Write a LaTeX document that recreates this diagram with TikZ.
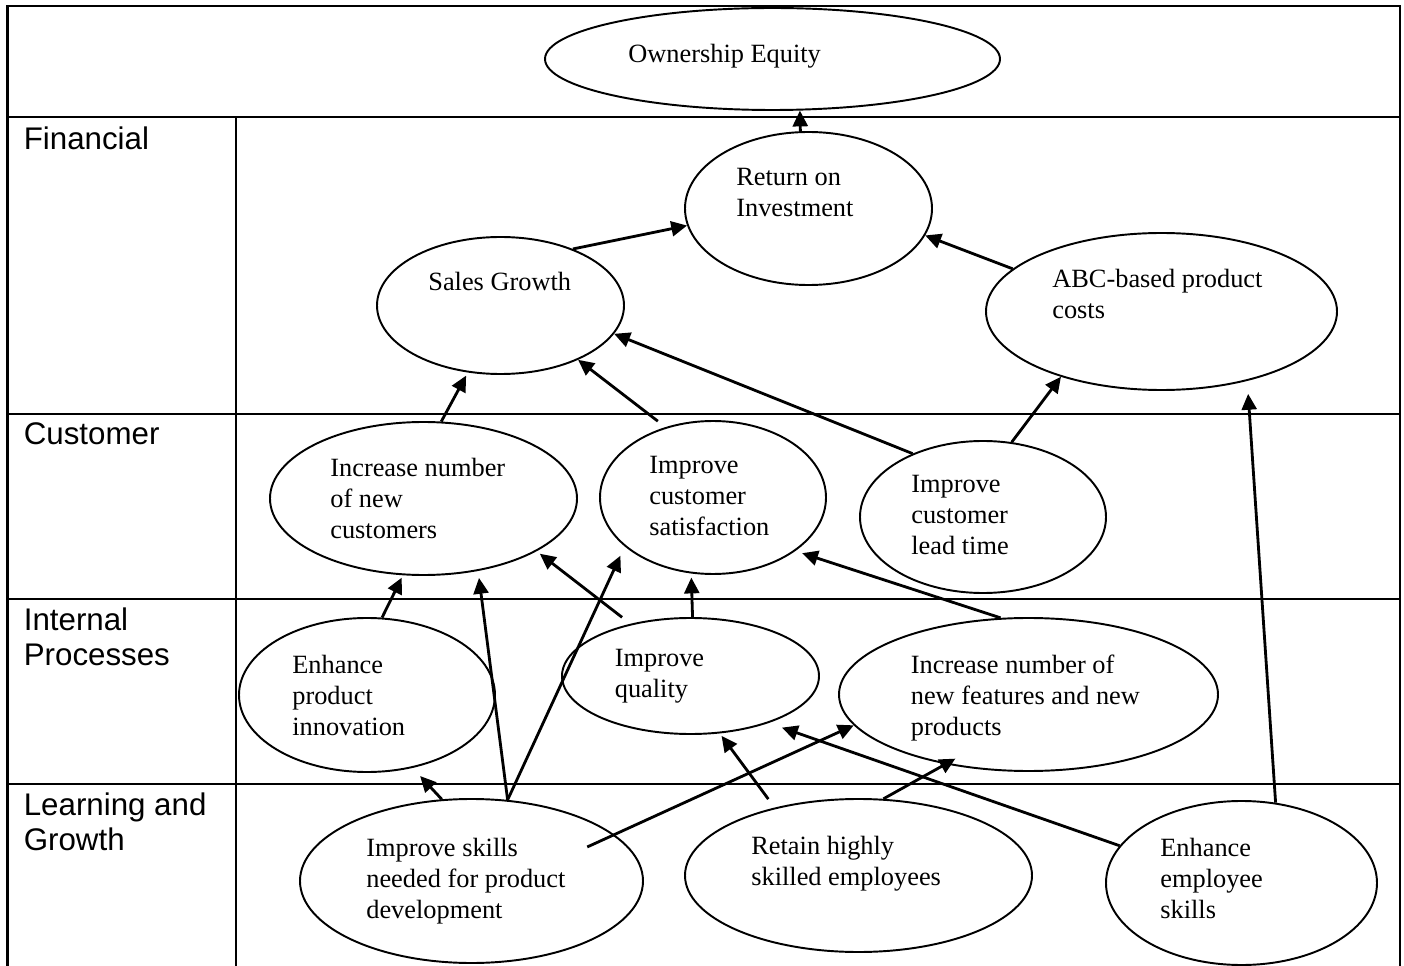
\documentclass[tikz,border=0pt]{standalone}
\usepackage{fontspec}
\setmainfont{Liberation Serif}
\newfontfamily\headfont{Liberation Sans}
\usetikzlibrary{shapes.geometric, arrows.meta, positioning}

\begin{document}
\begin{tikzpicture}[
	goal/.style={ellipse, draw, line width=1.1pt, inner sep=0pt},
	txt/.style={anchor=north west, inner sep=0pt, align=left, font=\fontsize{15}{17.64}\selectfont},
	persp/.style={anchor=north west, inner sep=0pt, align=left, font=\headfont\fontsize{17.8}{19.9}\selectfont},
	arr/.style={line width=1.6pt, -{Triangle[length=9pt,width=8.5pt]}},
	grid/.style={line width=1.6pt}
	]
	\useasboundingbox (0,0) rectangle (28.08,-19.32);

	% Table frame and rows
	\draw[grid] (0.15,-19.32) -- (0.15,-0.12) -- (28.0,-0.12) -- (28.0,-19.32);
	\draw[grid] (0.15,-2.34) -- (28.0,-2.34);
	\draw[grid] (0.15,-8.28) -- (28.0,-8.28);
	\draw[grid] (0.15,-11.98) -- (28.0,-11.98);
	\draw[grid] (0.15,-15.68) -- (28.0,-15.68);
	\draw[grid] (4.72,-2.34) -- (4.72,-19.32);

	% Perspectives
	\node[persp] (fin) at (0.47,-2.52) {Financial};
	\node[persp] (cus) at (0.47,-8.45) {Customer};
	\node[persp] (ipr) at (0.47,-12.15) {Internal\\Processes};
	\node[persp] (lag) at (0.47,-15.85) {Learning and\\Growth};

	% Top goal
	\node[goal, minimum width=9.10cm, minimum height=2.04cm] (oe) at (15.45,-1.18) {};
	\node[txt] (oe-t) at (12.56,-0.88) {Ownership Equity};

	% Financial goals
	\node[goal, minimum width=4.94cm, minimum height=3.06cm] (roi) at (16.17,-4.17) {};
	\node[txt] (roi-t) at (14.72,-3.36) {Return on\\Investment};
	\node[goal, minimum width=4.94cm, minimum height=2.74cm] (sg) at (10.01,-6.11) {};
	\node[txt] (sg-t) at (8.56,-5.44) {Sales Growth};
	\node[goal, minimum width=7.02cm, minimum height=3.14cm] (abc) at (23.23,-6.23) {};
	\node[txt] (abc-t) at (21.04,-5.38) {ABC-based product\\costs};

	% Customer goals
	\node[goal, minimum width=6.14cm, minimum height=3.06cm] (cust) at (8.47,-9.97) {};
	\node[txt] (cust-t) at (6.60,-9.16) {Increase number\\of new\\customers};
	\node[goal, minimum width=4.52cm, minimum height=3.06cm] (sat) at (14.26,-9.95) {};
	\node[txt] (sat-t) at (12.98,-9.12) {Improve\\customer\\satisfaction};
	\node[goal, minimum width=4.92cm, minimum height=3.04cm] (lead) at (19.66,-10.34) {};
	\node[txt] (lead-t) at (18.22,-9.50) {Improve\\customer\\lead time};

	% Internal process goals
	\node[goal, minimum width=5.12cm, minimum height=3.08cm] (innov) at (7.34,-13.90) {};
	\node[txt] (innov-t) at (5.84,-13.10) {Enhance\\product\\innovation};
	\node[goal, minimum width=5.14cm, minimum height=2.32cm] (qual) at (13.81,-13.52) {};
	\node[txt] (qual-t) at (12.29,-12.98) {Improve\\quality};
	\node[goal, minimum width=7.58cm, minimum height=3.06cm] (feat) at (20.57,-13.89) {};
	\node[txt] (feat-t) at (18.21,-13.10) {Increase number of\\new features and new\\products};

	% Learning and growth goals
	\node[goal, minimum width=6.86cm, minimum height=3.28cm] (skl) at (9.43,-17.62) {};
	\node[txt] (skl-t) at (7.32,-16.76) {Improve skills\\needed for product\\development};
	\node[goal, minimum width=6.94cm, minimum height=3.06cm] (ret) at (17.17,-17.51) {};
	\node[txt] (ret-t) at (15.02,-16.72) {Retain highly\\skilled employees};
	\node[goal, minimum width=5.42cm, minimum height=3.28cm] (emp) at (24.83,-17.66) {};
	\node[txt] (emp-t) at (23.20,-16.76) {Enhance\\employee\\skills};

	% Links into the financial row
	\draw[arr] (roi.96) -- (oe.-62);
	\draw[arr] (sg.38) -- (roi.-172);
	\draw[arr] (abc.164) -- (roi.-13);
	\draw[arr, shorten >=2pt] (cust.77) -- (sg.-116);
	\draw[arr, shorten <=5.5pt] (sat.124) -- (sg.-35);
	\draw[arr] (lead.138) -- (sg.-14);
	\draw[arr] (lead.69) -- (abc.-147);

	% Links into the customer row
	\draw[arr, shorten >=1.5pt] (innov.79) -- (cust.-105);
	\draw[arr, shorten <=6pt, shorten >=2.3pt] (qual.139) -- (cust.-25);
	\draw[arr, shorten >=2.3pt] (qual.88) -- (sat.-106);
	\draw[arr, shorten >=4pt] (feat.110) -- (sat.-33);
	\draw[arr, shorten >=4pt] (skl.66) -- (cust.-53);
	\draw[arr, shorten >=5.8pt] (skl.66) -- (sat.-151);

	% Links from learning and growth
	\draw[arr, shorten >=6.3pt] (skl.110) -- (innov.-58);
	\draw[arr, shorten <=-17pt] (skl.18) -- (feat.-170);
	\draw[arr, shorten <=6pt, shorten >=1.7pt] (ret.141) -- (qual.-63);
	\draw[arr, shorten >=-6.5pt] (ret.72) -- (feat.-140);
	\draw[arr, shorten >=8pt] (emp.163) -- (qual.-31);
	\draw[arr, shorten >=7.4pt] (emp.67) -- (abc.-39);
\end{tikzpicture}
\end{document}
